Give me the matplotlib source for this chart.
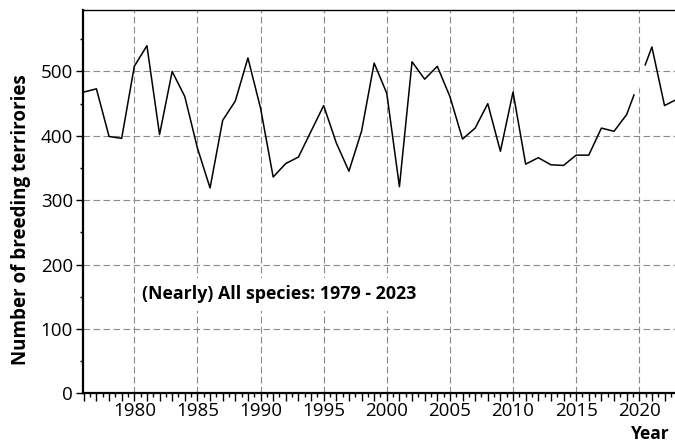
import numpy as np
import matplotlib
matplotlib.use("Agg")
import matplotlib.pyplot as plt
from matplotlib.ticker import MultipleLocator, FuncFormatter

# breeding territories per year (no survey in 2020)
years = [1976, 1977, 1978, 1979, 1980, 1981, 1982, 1983, 1984, 1985,
         1986, 1987, 1988, 1989, 1990, 1991, 1992, 1993, 1994, 1995,
         1996, 1997, 1998, 1999, 2000, 2001, 2002, 2003, 2004, 2005,
         2006, 2007, 2008, 2009, 2010, 2011, 2012, 2013, 2014, 2015,
         2016, 2017, 2018, 2019, 2021, 2022, 2023]
territories = [468, 473, 399, 396, 508, 540, 402, 500, 461, 381,
               319, 424, 454, 521, 443, 336, 357, 367, 407, 447,
               389, 345, 407, 513, 466, 321, 515, 488, 508, 461,
               395, 412, 450, 376, 468, 356, 366, 355, 354, 370,
               370, 412, 407, 433, 538, 447, 457]
missing_year = 2020

label_years = [1980, 1985, 1990, 1995, 2000, 2005, 2010, 2015, 2020]
title = "(Nearly) All species: 1979 - 2023"

plt.rcParams['font.family'] = ['Open Sans', 'DejaVu Sans']

fig = plt.figure(figsize=(6.75, 4.45), dpi=100)
ax = fig.add_axes([83.3 / 675, 51.7 / 445, (675 - 83.3) / 675, 383 / 445])

ax.set_xlim(1975.96, 2022.83)
ax.set_ylim(0, 595)

# grid
grid_kw = dict(color='#8a8a8a', linewidth=0.8, linestyle=(0, (6, 3)), zorder=1)
for gx in label_years:
    ax.axvline(gx, **grid_kw)
for gy in range(100, 600, 100):
    ax.axhline(gy, **grid_kw)

ax.plot(years, territories, color='black', linewidth=1.1, zorder=3)

# break the line across the missing year
gap_x = np.array([missing_year - 0.4, missing_year + 0.45])
gap_y = np.interp(gap_x, years, territories)
ax.plot(gap_x, gap_y, color='white', linewidth=4, solid_capstyle='butt', zorder=4)

# axes and ticks
ax.spines['right'].set_visible(False)
ax.spines['left'].set_linewidth(1.6)
ax.spines['bottom'].set_linewidth(1.6)
ax.spines['top'].set_linewidth(1.0)

ax.xaxis.set_major_locator(MultipleLocator(1))
ax.xaxis.set_minor_locator(MultipleLocator(0.5))
ax.xaxis.set_major_formatter(
    FuncFormatter(lambda v, p: f"{int(round(v))}" if int(round(v)) in label_years else ""))
ax.yaxis.set_major_locator(MultipleLocator(100))
ax.yaxis.set_minor_locator(MultipleLocator(50))

ax.tick_params(axis='x', which='major', length=6, width=1.0, pad=0.5,
               labelsize=13.5, direction='out')
ax.tick_params(axis='x', which='minor', length=3, width=1.0, direction='out')
ax.tick_params(axis='y', which='major', length=5, width=1.0, pad=2.5,
               labelsize=13.5, direction='out')
ax.tick_params(axis='y', which='minor', length=2.5, width=1.0, direction='out')

ax.set_ylabel("Number of breeding terrirories", fontsize=13.5, fontweight='bold')
ax.yaxis.set_label_coords(-0.088, 0.4525)
ax.set_xlabel("Year", fontsize=12.5, fontweight='bold', ha='right')
ax.xaxis.set_label_coords(0.9915, -0.084)

ax.text(1991.5, 153.6, title, fontsize=12.8, fontweight='bold', ha='center', va='center',
        bbox=dict(facecolor='white', edgecolor='none', pad=5.5), zorder=5)

fig.savefig("out.png", dpi=100)
